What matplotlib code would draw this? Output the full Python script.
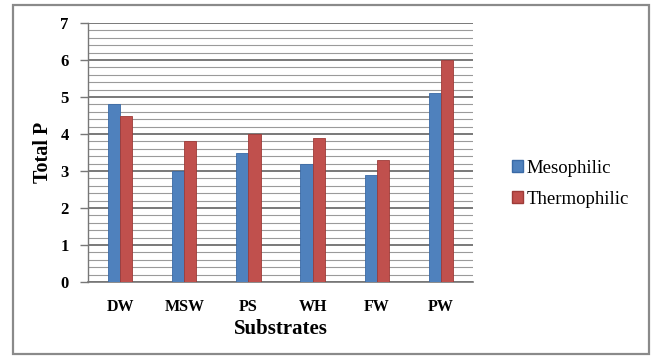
import matplotlib
matplotlib.use("Agg")
import matplotlib.pyplot as plt
from matplotlib.patches import Rectangle
import numpy as np

substrates = ["DW", "MSW", "PS", "WH", "FW", "PW"]
mesophilic = [4.8, 3.0, 3.5, 3.2, 2.9, 5.1]
thermophilic = [4.5, 3.8, 4.0, 3.9, 3.3, 6.0]
series_names = ["Mesophilic", "Thermophilic"]

blue = "#4F81BD"
red = "#C0504D"

plt.rcParams["font.family"] = ["Liberation Serif", "DejaVu Serif"]

fig = plt.figure(figsize=(6.54, 3.56), dpi=100)
fig.patch.set_facecolor("white")

# outer frame around the chart
fig.add_artist(Rectangle((13 / 654, 1 - 354 / 356), (649 - 13) / 654, (354 - 5) / 356,
                         transform=fig.transFigure, fill=False,
                         edgecolor="#8a8a8a", linewidth=1.6))

ax = fig.add_axes([88 / 654, 1 - 282 / 356, (473 - 88) / 654, (282 - 23) / 356])

x = np.arange(len(substrates))
w = 0.19
ax.bar(x - w / 2, mesophilic, w, color=blue, edgecolor="#3A6AA6", linewidth=0.6, zorder=3)
ax.bar(x + w / 2, thermophilic, w, color=red, edgecolor="#9E3B38", linewidth=0.6, zorder=3)

ax.set_xlim(-0.5, len(substrates) - 0.5)
ax.set_ylim(0, 7)
ax.set_yticks(range(0, 8))
ax.set_yticks(np.arange(0, 7.01, 0.2), minor=True)
ax.set_xticks(x)
ax.set_xticklabels(substrates, fontsize=11.5, fontweight="bold")
ax.tick_params(axis="y", which="major", labelsize=12, length=6, width=1, color="#777777", pad=8)
ax.tick_params(axis="y", which="minor", length=0)
ax.tick_params(axis="x", length=0, pad=12)
for lbl in ax.get_yticklabels():
    lbl.set_fontweight("bold")

ax.grid(axis="y", which="minor", color="#9a9a9a", linewidth=0.8, zorder=0)
ax.grid(axis="y", which="major", color="#6e6e6e", linewidth=1.3, zorder=1)

for side in ["top", "right"]:
    ax.spines[side].set_visible(False)
ax.spines["left"].set_color("#777777")
ax.spines["bottom"].set_color("#777777")
ax.spines["left"].set_linewidth(1.0)
ax.spines["bottom"].set_linewidth(1.2)

ax.set_ylabel("Total P", fontsize=14.5, fontweight="bold", labelpad=5)
ax.set_xlabel("Substrates", fontsize=15, fontweight="bold", labelpad=3)

handles = [Rectangle((0, 0), 1, 1, facecolor=blue, edgecolor="#3A6AA6"),
           Rectangle((0, 0), 1, 1, facecolor=red, edgecolor="#9E3B38")]
fig.legend(handles, series_names, loc="center left",
           bbox_to_anchor=(495 / 654, 1 - 184 / 356), frameon=False,
           fontsize=13.5, handlelength=0.6, handleheight=0.6,
           handletextpad=0.2, labelspacing=0.75)

fig.savefig("out.png", dpi=100, facecolor="white")
